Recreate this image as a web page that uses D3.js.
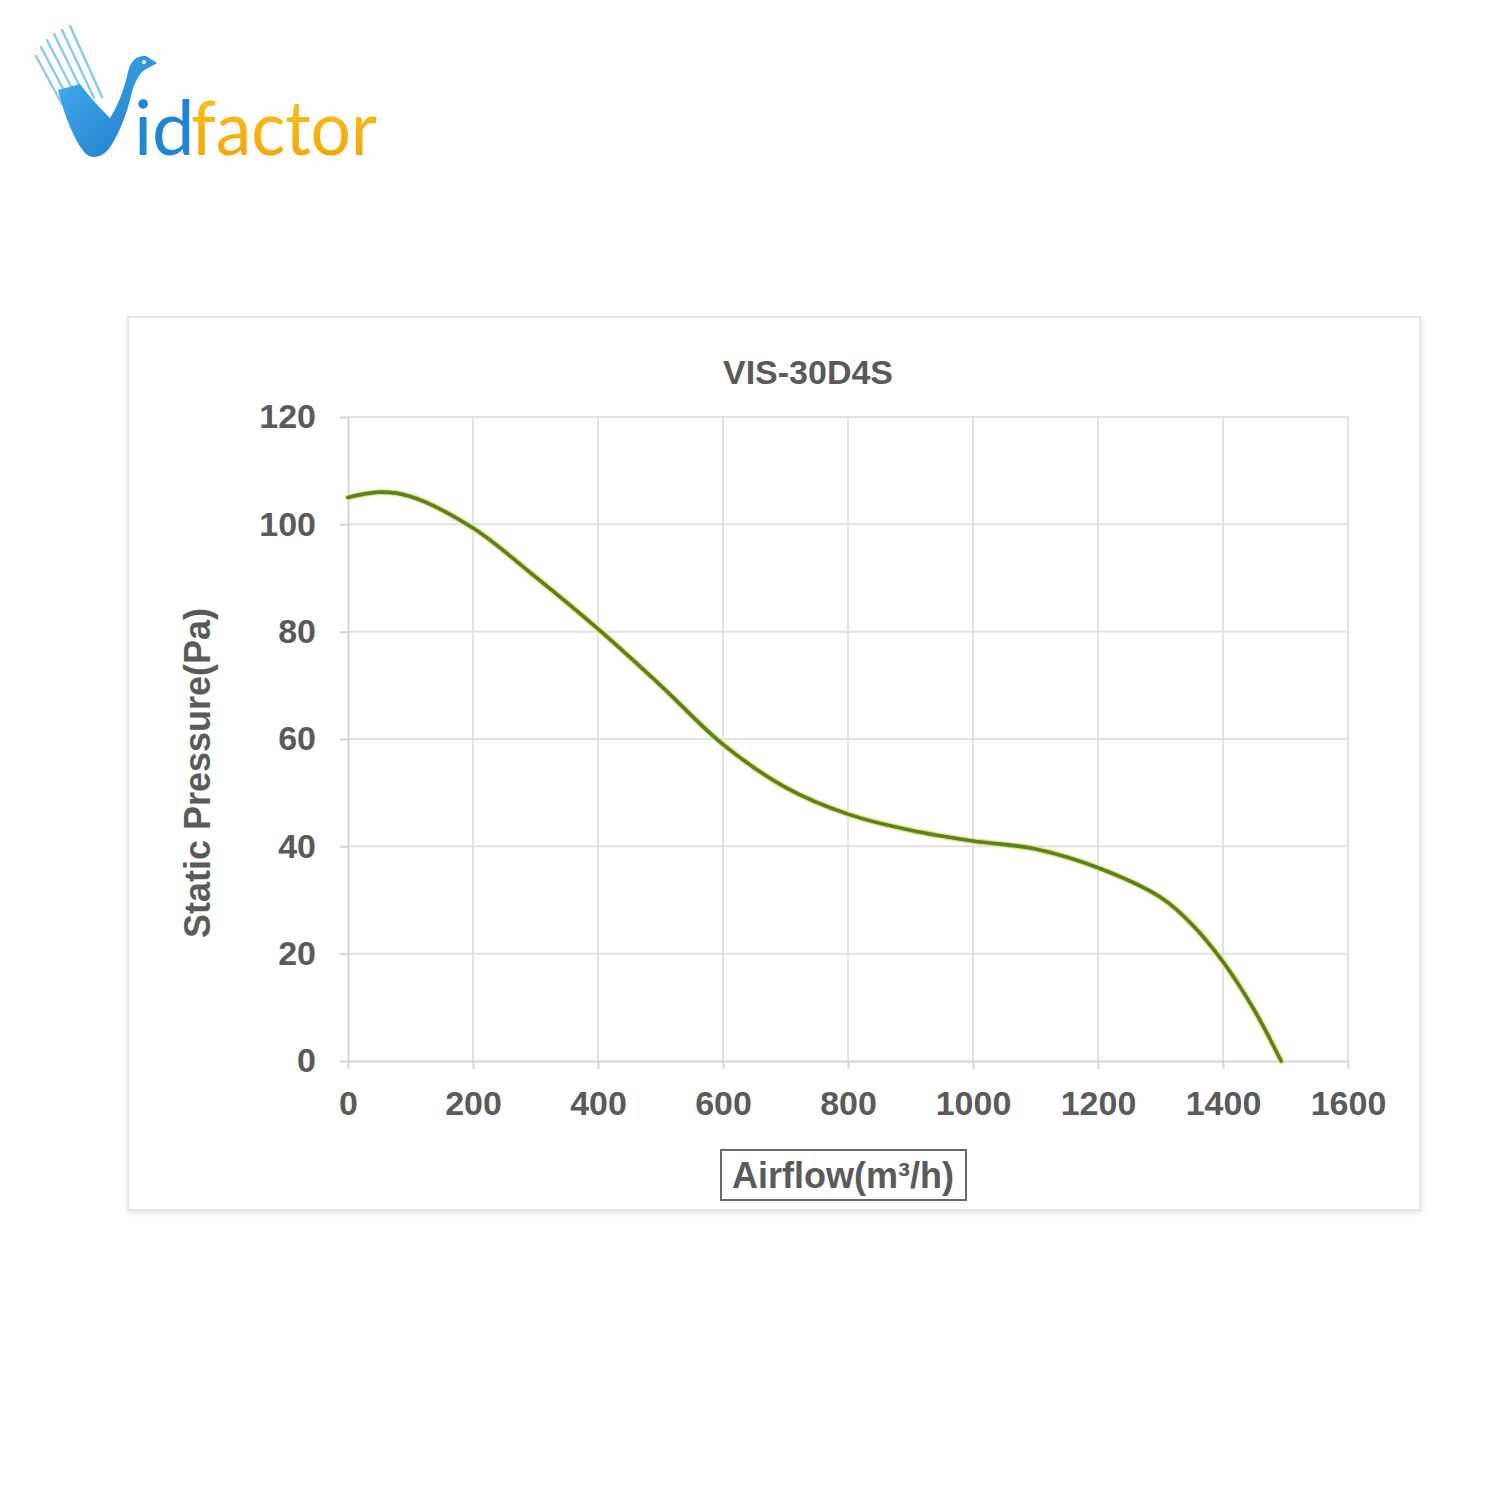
<!DOCTYPE html>
<html>
<head>
<meta charset="utf-8">
<script src="https://cdn.jsdelivr.net/npm/d3@7"></script>
<style>
html,body{margin:0;padding:0;background:#fff;}
svg{display:block;}
</style>
</head>
<body>
<script>
// ---- data ----
const title = "VIS-30D4S";
const xLabel = "Airflow(m³/h)";
const yLabel = "Static Pressure(Pa)";
const airflow  = [0, 50, 100, 200, 300, 400, 500, 600, 700, 800, 900, 1000, 1100, 1200, 1300, 1350, 1400, 1450, 1493];
const pressure = [105, 106, 105.2, 99.3, 90.2, 80.5, 70, 59, 51, 46, 43, 41, 39.5, 36, 30.5, 25.5, 18.5, 9.5, 0];
const xTicks = [0, 200, 400, 600, 800, 1000, 1200, 1400, 1600];
const yTicks = [0, 20, 40, 60, 80, 100, 120];

const W = 1500, H = 1500;
const svg = d3.select("body").append("svg").attr("width", W).attr("height", H);
const defs = svg.append("defs");

// ---- logo ----
const logo = svg.append("g");
const gBlue = defs.append("linearGradient").attr("id","gb").attr("x1","0").attr("y1","0").attr("x2","1").attr("y2","1");
gBlue.append("stop").attr("offset","0").attr("stop-color","#46b2ee");
gBlue.append("stop").attr("offset","1").attr("stop-color","#1a78c8");
const gOr = defs.append("linearGradient").attr("id","go").attr("x1","0").attr("y1","0").attr("x2","0").attr("y2","1");
gOr.append("stop").attr("offset","0").attr("stop-color","#f9c628");
gOr.append("stop").attr("offset","1").attr("stop-color","#f0a200");
// feathers
const fStart = [[36,56],[41,47],[47,40],[54,34],[62,30],[70,26]];
const fEnd   = [[62,104],[70,102],[78,100],[86,99],[94,98],[102,97]];
fStart.forEach((f,i)=>{
  logo.append("line").attr("x1",f[0]).attr("y1",f[1]).attr("x2",fEnd[i][0]).attr("y2",fEnd[i][1])
    .attr("stroke","#6cbdee").attr("stroke-width",2.4).attr("stroke-linecap","round").attr("opacity",0.8);
});
// V + bird
logo.append("path").attr("d",
  "M58,90 C64,114 73,138 84,152 C90,159 100,159 108,150 C116,140 126,118 132,92 " +
  "C136,78 142,70 148,68 L157,63 L146,56 C136,55 130,62 128,72 C124,90 118,105 110,118 C102,110 92,100 80,84 Z")
  .attr("fill","url(#gb)");
logo.append("circle").attr("cx",144).attr("cy",62).attr("r",2).attr("fill","#fff");
const lt = logo.append("text").attr("y",155).attr("font-family","Lato, 'Open Sans', sans-serif")
  .attr("font-size",76).attr("font-weight",400);
lt.append("tspan").attr("x",134).attr("fill","#1e86d2").text("i");
lt.append("tspan").attr("x",152).attr("fill","#1e86d2").text("d");
lt.append("tspan").attr("x",191).attr("fill","url(#go)").attr("textLength",186).attr("lengthAdjust","spacingAndGlyphs").text("factor");

// ---- chart panel ----
const filt = defs.append("filter").attr("id","sh").attr("x","-5%").attr("y","-5%").attr("width","110%").attr("height","110%");
filt.append("feGaussianBlur").attr("in","SourceAlpha").attr("stdDeviation",3);
filt.append("feOffset").attr("dx",1).attr("dy",2).attr("result","b");
filt.append("feComponentTransfer").append("feFuncA").attr("type","linear").attr("slope",0.12);
const fm = filt.append("feMerge"); fm.append("feMergeNode"); fm.append("feMergeNode").attr("in","SourceGraphic");
svg.append("rect").attr("x",128).attr("y",317).attr("width",1292).attr("height",893)
  .attr("fill","#fff").attr("stroke","#e6e6e6").attr("stroke-width",2).attr("filter","url(#sh)");

const x = d3.scaleLinear().domain([0,1600]).range([348,1348]);
const y = d3.scaleLinear().domain([0,120]).range([1061,417]);

const font = "'Liberation Sans', Arial, sans-serif";

// gridlines
const grid = svg.append("g");
grid.selectAll(".vg").data(xTicks.slice(1)).join("line")
  .attr("x1",d=>x(d)).attr("x2",d=>x(d)).attr("y1",y(120)).attr("y2",y(0))
  .attr("stroke","#e3e3e3").attr("stroke-width",2);
grid.selectAll(".hg").data(yTicks.slice(1)).join("line")
  .attr("x1",x(0)).attr("x2",x(1600)).attr("y1",d=>y(d)).attr("y2",d=>y(d))
  .attr("stroke","#e3e3e3").attr("stroke-width",2);

// axes
const xAxis = svg.append("g").attr("transform",`translate(0,${y(0)})`)
  .call(d3.axisBottom(x).tickValues(xTicks).tickSize(8).tickSizeOuter(0).tickPadding(22).tickFormat(d3.format("d")));
const yAxis = svg.append("g").attr("transform",`translate(${x(0)},0)`)
  .call(d3.axisLeft(y).tickValues(yTicks).tickSize(8).tickSizeOuter(0).tickPadding(24).tickFormat(d3.format("d")));
[xAxis,yAxis].forEach(a=>{
  a.select(".domain").attr("stroke","#d6d6d6").attr("stroke-width",2);
  a.selectAll(".tick line").attr("stroke","#d6d6d6").attr("stroke-width",2);
  a.selectAll(".tick text").attr("font-family",font).attr("font-weight","bold")
    .attr("font-size",34).attr("fill","#5a5a5a");
});

// curve
const pts = airflow.map((a,i)=>[a,pressure[i]]);
const line = d3.line().x(d=>x(d[0])).y(d=>y(d[1])).curve(d3.curveCatmullRom.alpha(0.5));
svg.append("path").attr("d",line(pts)).attr("fill","none").attr("stroke","#d8ec6a").attr("stroke-width",6).attr("stroke-linecap","round");
svg.append("path").attr("d",line(pts)).attr("fill","none").attr("stroke","#5e7d2c").attr("stroke-width",3.6).attr("stroke-linecap","round");

// title
svg.append("text").attr("x",808).attr("y",384).attr("text-anchor","middle")
  .attr("font-family",font).attr("font-weight","bold").attr("font-size",34).attr("fill","#5a5a5a").text(title);

// y label
svg.append("text").attr("transform","translate(210,773) rotate(-90)").attr("text-anchor","middle")
  .attr("font-family",font).attr("font-weight","bold").attr("font-size",36).attr("fill","#5a5a5a").text(yLabel);

// x label with box
svg.append("rect").attr("x",721).attr("y",1150).attr("width",245).attr("height",50)
  .attr("fill","#fff").attr("stroke","#6a6a6a").attr("stroke-width",2);
svg.append("text").attr("x",843).attr("y",1188).attr("text-anchor","middle")
  .attr("font-family",font).attr("font-weight","bold").attr("font-size",36).attr("fill","#5a5a5a").text(xLabel);
</script>
</body>
</html>
